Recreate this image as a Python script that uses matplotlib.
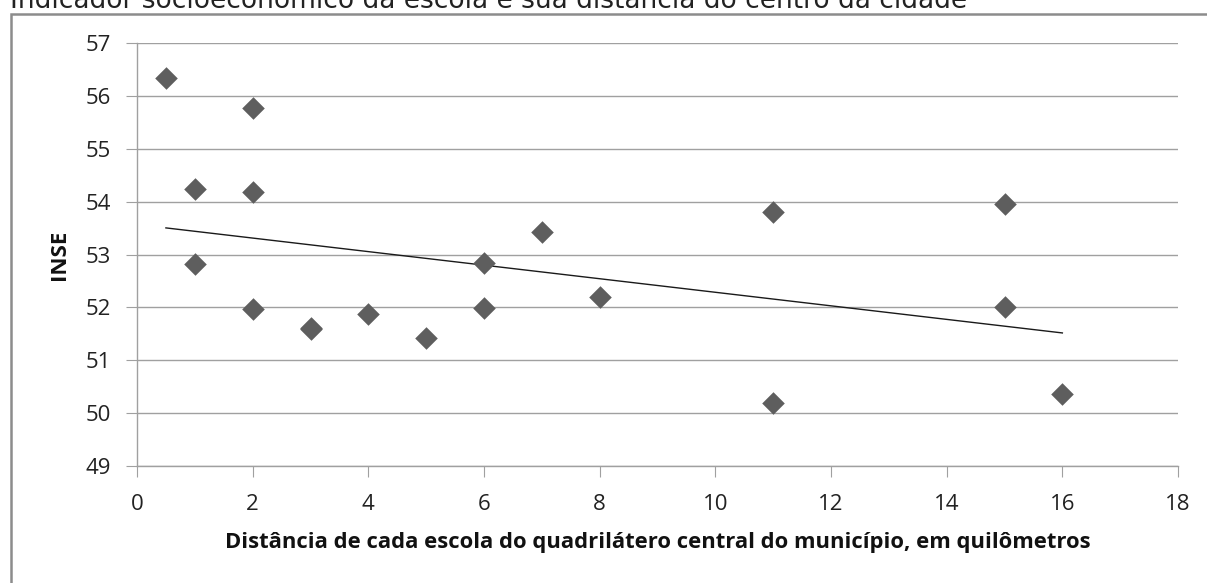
import numpy as np
import matplotlib.pyplot as plt
from matplotlib.patches import Rectangle

# distancia (km) e INSE de cada escola
distancia = [0.5, 1, 1, 2, 2, 2, 3, 3, 4, 5, 6, 6, 7, 8, 11, 11, 15, 15, 16]
inse = [56.33, 54.24, 52.82, 55.77, 54.19, 51.97, 51.61, 51.59, 51.88, 51.42,
        52.84, 51.98, 53.42, 52.19, 53.81, 50.20, 53.96, 52.00, 50.37]

xticks = list(range(0, 19, 2))
yticks = list(range(49, 58))

fig = plt.figure(figsize=(12.07, 5.83), dpi=100)
ax = fig.add_axes([0.1135, 0.2007, 0.8625, 0.7255])

# moldura do grafico
fig.patches.append(Rectangle((11 / 1207, -0.05), 1.1, 1 - 13.5 / 583 + 0.05,
                             transform=fig.transFigure, fill=False,
                             edgecolor='#8c8c8c', linewidth=1.8))
fig.text(0.008, 1 - 8.5 / 583, "Indicador socioeconômico da escola e sua distância do centro da cidade",
         fontsize=19, family='DejaVu Sans', color='#222222', va='baseline', ha='left')

ax.scatter(distancia, inse, marker='D', s=11.5**2, color='#5e5e5e', zorder=3, linewidths=0)

# linha de tendencia
a, b = np.polyfit(distancia, inse, 1)
xs = np.array([min(distancia), max(distancia)])
ax.plot(xs, a * xs + b, color='#1a1a1a', linewidth=1.0, zorder=2)

ax.set_xlim(0, 18)
ax.set_ylim(49, 57)
ax.set_xticks(xticks)
ax.set_yticks(yticks)
ax.grid(axis='y', color='#a0a0a0', linewidth=1.0)
ax.set_axisbelow(True)
for s in ['top', 'right']:
    ax.spines[s].set_visible(False)
for s in ['left', 'bottom']:
    ax.spines[s].set_color('#a0a0a0')
    ax.spines[s].set_linewidth(1.0)
ax.tick_params(axis='both', length=8, color='#a0a0a0', labelsize=16, labelcolor='#222222')
ax.tick_params(axis='x', pad=12)
ax.tick_params(axis='y', pad=11)
for lab in ax.get_xticklabels() + ax.get_yticklabels():
    lab.set_family('Open Sans')

ax.set_xlabel("Distância de cada escola do quadrilátero central do município, em quilômetros",
              fontsize=15.8, fontweight='bold', family='Open Sans', color='#111111')
ax.xaxis.set_label_coords(0.5, -0.157)
ax.set_ylabel("INSE", fontsize=16, fontweight='bold', family='Open Sans', color='#111111')
ax.yaxis.set_label_coords(-0.064, 0.5)

fig.savefig('out.png', dpi=100)
